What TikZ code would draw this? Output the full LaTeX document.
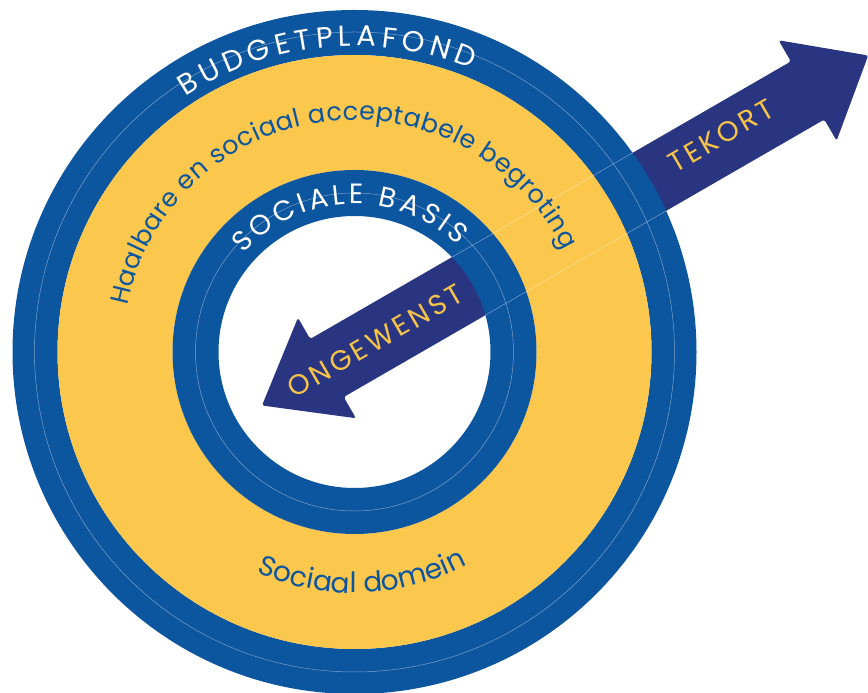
\documentclass[tikz,border=0pt]{standalone}
\usepackage{fontspec}
\usetikzlibrary{decorations.text}
\newfontfamily\hand{Poppins}
\newfontfamily\handsp{Poppins}[LetterSpace=12]
\definecolor{ringblue}{RGB}{12,85,159}
\definecolor{ringyellow}{RGB}{251,199,76}
\definecolor{navy}{RGB}{42,53,130}
\definecolor{txtyellow}{RGB}{248,196,72}
\tikzset{
  faint/.style={draw=white, draw opacity=0.45, line width=0.5pt},
  bandfill/.style={fill=navy, rounded corners=2.5pt},
  arrowlabel/.style={text=txtyellow, font=\handsp\fontsize{28pt}{28pt}\selectfont, inner sep=0pt, rotate=30},
  curvetext/.style={decorate, decoration={text along path, text align=fit to path, text color=#1}},
}
\begin{document}
\begin{tikzpicture}[x=1pt,y=1pt]
\fill[white] (0,0) rectangle (868,693);
\useasboundingbox (0,0) rectangle (868,693);
\coordinate (C) at (354.5,341);
% the double-headed band (its axis passes through the centre C)
\begin{scope}[shift={(262,287.5)}, rotate=30]
  \fill[bandfill] (0,0) -- (75,58) -- (75,33.5) -- (630,33.5) -- (630,58) -- (700,0)
    -- (630,-58) -- (630,-33.5) -- (75,-33.5) -- (75,-58) -- cycle;
\end{scope}
% rings
\begin{scope}[shift={(C)}]
  \fill[ringblue, even odd rule] (0,0) circle[radius=342pt] (0,0) circle[radius=297pt];
  \fill[ringyellow, even odd rule] (0,0) circle[radius=297pt] (0,0) circle[radius=182pt];
  \fill[ringblue, even odd rule] (0,0) circle[radius=182pt] (0,0) circle[radius=136pt];
  \draw[faint] (0,0) circle[radius=320pt];
  \draw[faint] (0,0) circle[radius=159pt];
\end{scope}
% faint band edges over the rings
\begin{scope}[shift={(262,287.5)}, rotate=30]
  \draw[faint] (238.7,33.5) -- (447.3,33.5);
  \draw[faint] (238.7,-33.5) -- (447.3,-33.5);
\end{scope}
% curved texts
\begin{scope}[shift={(C)}]
  \path[curvetext=white, decoration={text={|\hand\fontsize{29pt}{29pt}\selectfont|BUDGETPLAFOND}}]
    (123.5:306pt) arc[start angle=123.5, end angle=67.5, radius=306pt];
  \path[curvetext=ringblue, decoration={text={|\hand\fontsize{25.5pt}{25.5pt}\selectfont|Haalbare en sociaal acceptabele begroting}}]
    (168.5:232pt) arc[start angle=168.5, end angle=26, radius=232pt];
  \path[curvetext=white, decoration={text={|\hand\fontsize{28pt}{28pt}\selectfont|SOCIALE BASIS}}]
    (138.5:148pt) arc[start angle=138.5, end angle=46, radius=148pt];
  \path[curvetext=ringblue, decoration={text={|\hand\fontsize{28pt}{28pt}\selectfont|Sociaal domein}}]
    (-114:241pt) arc[start angle=-114, end angle=-64, radius=241pt];
\end{scope}
% arrow labels
\node[arrowlabel] (tekort) at (721,557) {TEKORT};
\node[arrowlabel] (ongewenst) at (375,352) {ONGEWENST};
\end{tikzpicture}
\end{document}
